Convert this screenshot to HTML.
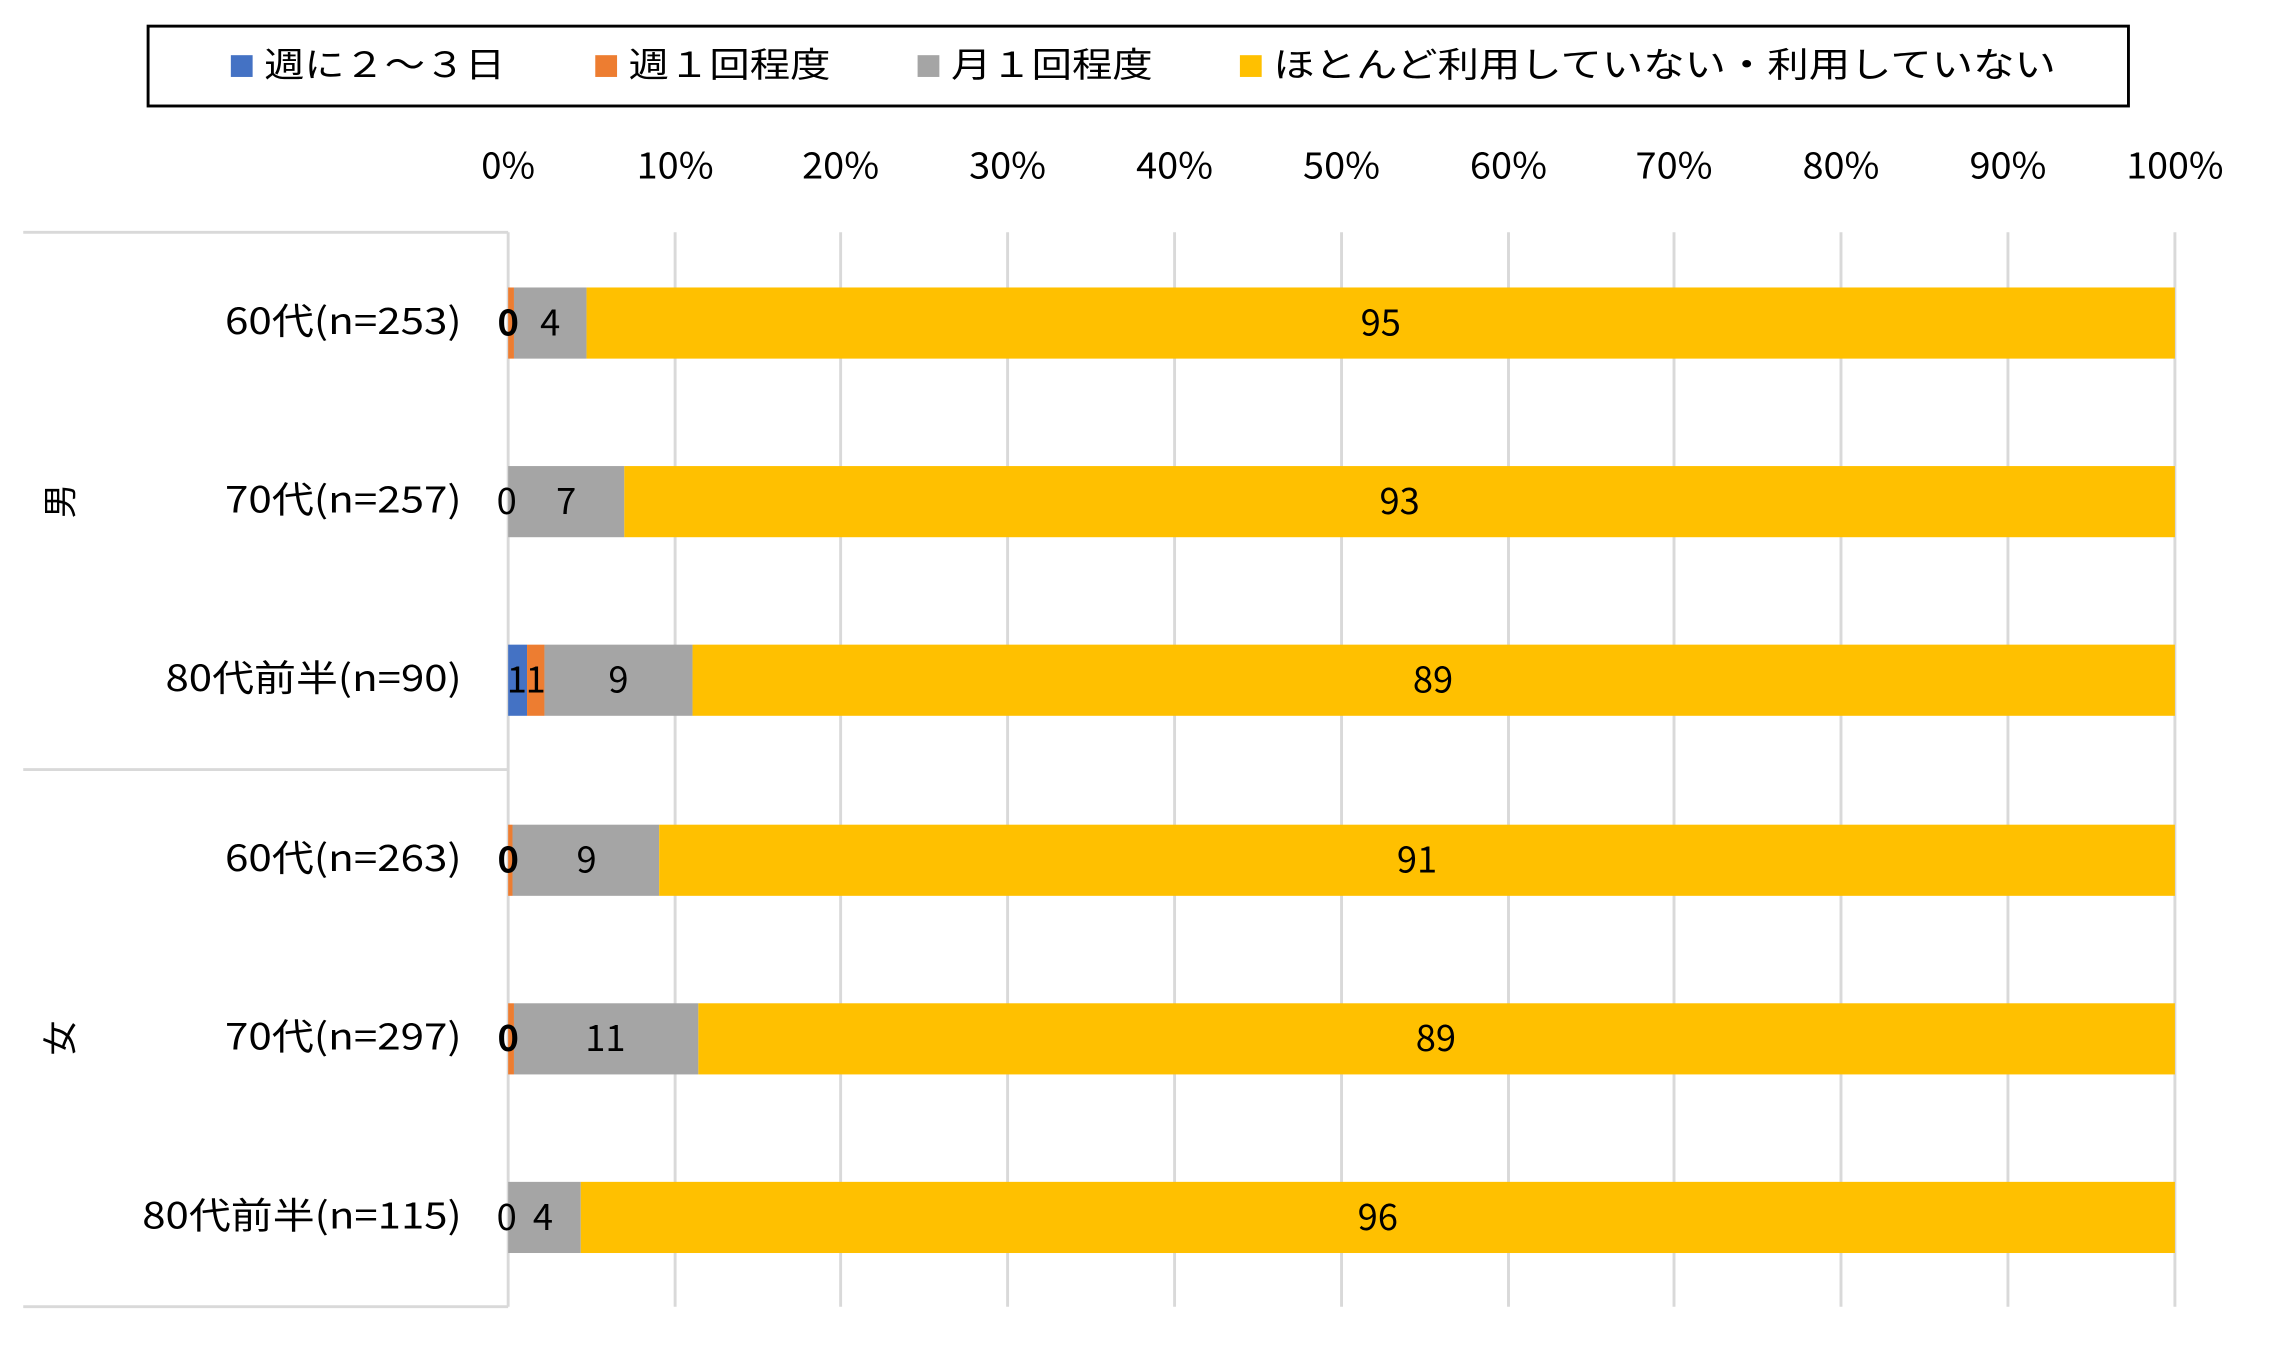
<!DOCTYPE html>
<html><head><meta charset="utf-8"><style>
html,body{margin:0;padding:0;background:#fff;}
svg{display:block;}
text{font-family:"Noto Sans CJK JP","Liberation Sans",sans-serif;fill:#000;}
</style></head><body>
<svg width="2278" height="1359" viewBox="0 0 1569 936" preserveAspectRatio="none" xmlns="http://www.w3.org/2000/svg">
<rect x="0" y="0" width="1569" height="936" fill="#fff"/>
<rect x="102" y="18" width="1364" height="55" fill="#fff" stroke="#000" stroke-width="2"/>
<g font-size="24" lengthAdjust="spacingAndGlyphs">
<rect x="159" y="38" width="15" height="15" fill="#4472C4"/><text x="182" y="53" textLength="166" lengthAdjust="spacingAndGlyphs">週に２～３日</text>
<rect x="410" y="38" width="15" height="15" fill="#ED7D31"/><text x="433" y="53" textLength="139" lengthAdjust="spacingAndGlyphs">週１回程度</text>
<rect x="632" y="38" width="15" height="15" fill="#A5A5A5"/><text x="655" y="53" textLength="139" lengthAdjust="spacingAndGlyphs">月１回程度</text>
<rect x="854" y="38" width="15" height="15" fill="#FFC000"/><text x="877" y="53" textLength="539" lengthAdjust="spacingAndGlyphs">ほとんど利用していない・利用していない</text>
</g>
<g font-size="25" text-anchor="middle">
<text x="350" y="123" textLength="37" lengthAdjust="spacingAndGlyphs">0%</text>
<text x="465" y="123" textLength="53" lengthAdjust="spacingAndGlyphs">10%</text>
<text x="579" y="123" textLength="53" lengthAdjust="spacingAndGlyphs">20%</text>
<text x="694" y="123" textLength="53" lengthAdjust="spacingAndGlyphs">30%</text>
<text x="809" y="123" textLength="53" lengthAdjust="spacingAndGlyphs">40%</text>
<text x="924" y="123" textLength="53" lengthAdjust="spacingAndGlyphs">50%</text>
<text x="1039" y="123" textLength="53" lengthAdjust="spacingAndGlyphs">60%</text>
<text x="1153" y="123" textLength="53" lengthAdjust="spacingAndGlyphs">70%</text>
<text x="1268" y="123" textLength="53" lengthAdjust="spacingAndGlyphs">80%</text>
<text x="1383" y="123" textLength="53" lengthAdjust="spacingAndGlyphs">90%</text>
<text x="1498" y="123" textLength="67" lengthAdjust="spacingAndGlyphs">100%</text>
</g>
<g stroke="#d9d9d9" stroke-width="2">
<line x1="465" y1="160" x2="465" y2="900"/><line x1="579" y1="160" x2="579" y2="900"/><line x1="694" y1="160" x2="694" y2="900"/><line x1="809" y1="160" x2="809" y2="900"/><line x1="924" y1="160" x2="924" y2="900"/><line x1="1039" y1="160" x2="1039" y2="900"/><line x1="1153" y1="160" x2="1153" y2="900"/><line x1="1268" y1="160" x2="1268" y2="900"/><line x1="1383" y1="160" x2="1383" y2="900"/><line x1="1498" y1="160" x2="1498" y2="900"/>
<line x1="350" y1="160" x2="350" y2="900"/>
<line x1="16" y1="160" x2="350" y2="160"/><line x1="16" y1="530" x2="350" y2="530"/><line x1="16" y1="900" x2="350" y2="900"/>
</g>
<g>
<rect x="350" y="198" width="4" height="49" fill="#ED7D31"/><rect x="354" y="198" width="50" height="49" fill="#A5A5A5"/><rect x="404" y="198" width="1094" height="49" fill="#FFC000"/>
<rect x="350" y="321" width="80" height="49" fill="#A5A5A5"/><rect x="430" y="321" width="1068" height="49" fill="#FFC000"/>
<rect x="350" y="444" width="13" height="49" fill="#4472C4"/><rect x="363" y="444" width="12" height="49" fill="#ED7D31"/><rect x="375" y="444" width="102" height="49" fill="#A5A5A5"/><rect x="477" y="444" width="1021" height="49" fill="#FFC000"/>
<rect x="350" y="568" width="3" height="49" fill="#ED7D31"/><rect x="353" y="568" width="101" height="49" fill="#A5A5A5"/><rect x="454" y="568" width="1044" height="49" fill="#FFC000"/>
<rect x="350" y="691" width="4" height="49" fill="#ED7D31"/><rect x="354" y="691" width="127" height="49" fill="#A5A5A5"/><rect x="481" y="691" width="1017" height="49" fill="#FFC000"/>
<rect x="350" y="814" width="50" height="49" fill="#A5A5A5"/><rect x="400" y="814" width="1098" height="49" fill="#FFC000"/>
</g>
<g font-size="25" text-anchor="middle">
<text x="350" y="231" font-weight="bold">0</text><text x="379" y="231">4</text><text x="951" y="231">95</text>
<text x="349" y="354">0</text><text x="390" y="354">7</text><text x="964" y="354">93</text>
<text x="356" y="477">1</text><text x="369" y="477">1</text><text x="426" y="477">9</text><text x="987" y="477">89</text>
<text x="350" y="601" font-weight="bold">0</text><text x="404" y="601">9</text><text x="976" y="601">91</text>
<text x="350" y="724" font-weight="bold">0</text><text x="417" y="724">11</text><text x="989" y="724">89</text>
<text x="349" y="847">0</text><text x="374" y="847">4</text><text x="949" y="847">96</text>
</g>
<g font-size="25">
<text x="155" y="230" textLength="163" lengthAdjust="spacingAndGlyphs">60代(n=253)</text>
<text x="155" y="353" textLength="163" lengthAdjust="spacingAndGlyphs">70代(n=257)</text>
<text x="114" y="476" textLength="204" lengthAdjust="spacingAndGlyphs">80代前半(n=90)</text>
<text x="155" y="600" textLength="163" lengthAdjust="spacingAndGlyphs">60代(n=263)</text>
<text x="155" y="723" textLength="163" lengthAdjust="spacingAndGlyphs">70代(n=297)</text>
<text x="98" y="846" textLength="220" lengthAdjust="spacingAndGlyphs">80代前半(n=115)</text>
</g>
<g font-size="24" text-anchor="middle">
<text x="42" y="345" transform="rotate(-90 42 345)" dy="8">男</text>
<text x="42" y="715" transform="rotate(-90 42 715)" dy="8">女</text>
</g>
</svg>
</body></html>
